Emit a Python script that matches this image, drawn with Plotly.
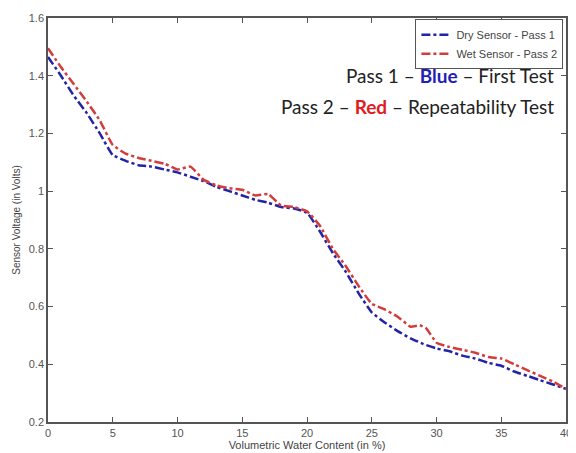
import plotly.graph_objects as go

x_dry = [0, 1, 2, 3, 4, 5, 6, 7, 8, 9, 10, 11, 12, 13, 14, 15, 16, 17, 18, 19, 20,
         21, 22, 23, 24, 25, 26, 27, 28, 29, 30, 31, 32, 33, 34, 35, 36, 37, 38, 39, 40]
y_dry = [1.465, 1.40, 1.33, 1.27, 1.20, 1.125, 1.105, 1.09, 1.085, 1.075, 1.065, 1.05, 1.035, 1.015, 1.0, 0.985,
         0.97, 0.96, 0.945, 0.94, 0.925, 0.86, 0.785, 0.72, 0.645, 0.58, 0.545, 0.515, 0.49, 0.47, 0.455,
         0.445, 0.43, 0.42, 0.405, 0.395, 0.375, 0.36, 0.345, 0.33, 0.315]

x_wet = [0, 1, 2, 3, 4, 5, 6, 7, 8, 9, 10, 11, 12, 13, 14, 15, 16, 17, 18, 19, 20,
         21, 22, 23, 24, 25, 26, 27, 28, 28.7, 29.2, 30, 31, 32, 33, 34, 35, 36, 37, 38, 39, 40]
y_wet = [1.495, 1.43, 1.37, 1.31, 1.245, 1.16, 1.13, 1.115, 1.105, 1.095, 1.075, 1.085, 1.04, 1.02, 1.01, 1.005,
         0.985, 0.99, 0.95, 0.945, 0.93, 0.88, 0.80, 0.74, 0.67, 0.61, 0.59, 0.565, 0.53, 0.535, 0.525, 0.475,
         0.46, 0.45, 0.44, 0.425, 0.42, 0.40, 0.38, 0.36, 0.34, 0.315]

x_ticks = [0, 5, 10, 15, 20, 25, 30, 35, 40]
y_ticks = [0.2, 0.4, 0.6, 0.8, 1.0, 1.2, 1.4, 1.6]

blue = "#2323a8"
red = "#d23c3c"

fig = go.Figure()
fig.add_trace(go.Scatter(x=x_dry, y=y_dry, mode="lines", name="Dry Sensor - Pass 1",
                         line=dict(color=blue, width=2.5, dash="dashdot", shape="spline", smoothing=0.4)))
fig.add_trace(go.Scatter(x=x_wet, y=y_wet, mode="lines", name="Wet Sensor - Pass 2",
                         line=dict(color=red, width=2.5, dash="dashdot", shape="spline", smoothing=0.4)))

axis_common = dict(showline=True, linecolor="#555555", linewidth=1.5, mirror="allticks",
                   ticks="inside", ticklen=5, tickcolor="#555555", showgrid=False, zeroline=False,
                   ticklabeloverflow="allow",
                   tickfont=dict(family="Liberation Sans, Arial", size=11, color="#555555"))

fig.update_xaxes(range=[0, 40], tickvals=x_ticks,
                 title=dict(text="Volumetric Water Content (in %)", standoff=2,
                            font=dict(family="Liberation Sans, Arial", size=11, color="#444444")),
                 **axis_common)
fig.update_yaxes(range=[0.2, 1.6], tickvals=y_ticks,
                 title=dict(text="Sensor Voltage (in Volts)", standoff=6,
                            font=dict(family="Liberation Sans, Arial", size=10, color="#444444")),
                 **axis_common)

fig.add_annotation(xref="paper", yref="paper", x=0.98, y=0.858, xanchor="right", yanchor="middle",
                   showarrow=False,
                   text="Pass 1 – <b><span style='color:#1f1fb4'>Blue</span></b> – First Test",
                   font=dict(family="Lato, Open Sans", size=19, color="#222222"))
fig.add_annotation(xref="paper", yref="paper", x=0.98, y=0.782, xanchor="right", yanchor="middle",
                   showarrow=False,
                   text="Pass 2 – <b><span style='color:#e01c1c'>Red</span></b> – Repeatability Test",
                   font=dict(family="Lato, Open Sans", size=19, color="#222222"))

fig.update_layout(
    width=568, height=445,
    margin=dict(l=40, r=4, t=6, b=31),
    paper_bgcolor="white", plot_bgcolor="white",
    showlegend=True,
    legend=dict(x=0.995, y=0.997, xanchor="right", yanchor="top",
                bordercolor="#555555", borderwidth=1, bgcolor="white",
                font=dict(family="Liberation Sans, Arial", size=11, color="#444444"),
                tracegroupgap=0, itemwidth=30),
)

fig.write_html("out.html")
